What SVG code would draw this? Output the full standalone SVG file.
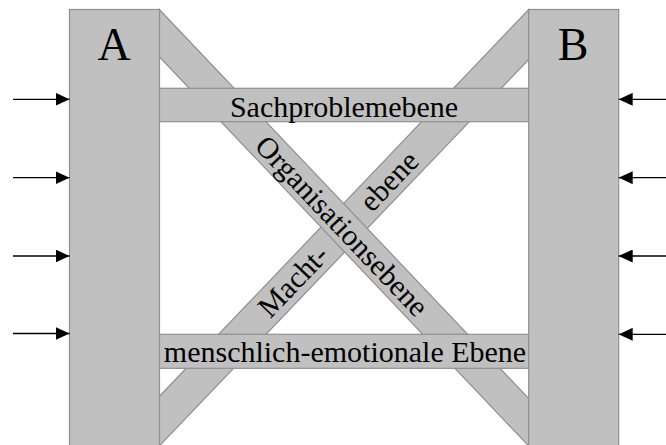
<svg xmlns="http://www.w3.org/2000/svg" width="666" height="445" viewBox="0 0 666 445">
  <style>
    .band { fill: #c0c0c0; stroke: #8f8f8f; stroke-width: 1.2; }
    .lbl { font-family: "Liberation Serif", "Times New Roman", serif; font-size: 30px; fill: #000; text-anchor: middle; }
    .big { font-family: "Liberation Serif", "Times New Roman", serif; font-size: 46px; fill: #000; text-anchor: middle; }
    .arrow { stroke: #000; stroke-width: 1.3; fill: none; marker-end: url(#head); }
  </style>
  <defs>
    <marker id="head" markerUnits="userSpaceOnUse" markerWidth="14" markerHeight="13" refX="14" refY="6.5" orient="auto">
      <path d="M0,0 L14,6.5 L0,13 z" fill="#000"/>
    </marker>
  </defs>

  <rect width="666" height="445" fill="#fff"/>

  <!-- rising diagonal: Macht-ebene -->
  <g id="band-macht">
    <polygon class="band" points="159.3,396.5 528.7,9.5 528.7,59.5 159.3,446"/>
  </g>

  <!-- falling diagonal: Organisationsebene -->
  <g id="band-organisation">
    <polygon class="band" points="159.3,9.5 528.7,398.5 528.7,446 159.3,56.7"/>
  </g>

  <!-- horizontal levels -->
  <g id="band-sach">
    <rect class="band" x="159.3" y="88.3" width="369.4" height="33.4"/>
  </g>
  <g id="band-mensch">
    <rect class="band" x="159.3" y="334.3" width="369.4" height="34"/>
  </g>

  <!-- pillars -->
  <g id="pillar-a">
    <rect class="band" x="69.5" y="9.5" width="90" height="445"/>
    <text class="big" x="114" y="60">A</text>
  </g>
  <g id="pillar-b">
    <rect class="band" x="528.7" y="9.5" width="90" height="445"/>
    <text class="big" x="573" y="60">B</text>
  </g>

  <!-- labels of the levels -->
  <g id="labels">
    <text class="lbl" x="344" y="116.5">Sachproblemebene</text>
    <text class="lbl" x="345" y="362">menschlich-emotionale Ebene</text>
    <text class="lbl" transform="translate(342,226) rotate(46.5)" x="0" y="10">Organisationsebene</text>
    <text class="lbl" transform="translate(293,281) rotate(-46.2)" x="0" y="10">Macht-</text>
    <text class="lbl" transform="translate(389,181) rotate(-46.2)" x="0" y="10">ebene</text>
  </g>

  <!-- incoming arrows -->
  <g id="connectors">
    <line class="arrow" x1="13" y1="99.3" x2="69.5" y2="99.3"/>
    <line class="arrow" x1="13" y1="177.7" x2="69.5" y2="177.7"/>
    <line class="arrow" x1="13" y1="256" x2="69.5" y2="256"/>
    <line class="arrow" x1="13" y1="333.5" x2="69.5" y2="333.5"/>
    <line class="arrow" x1="666" y1="99.3" x2="618.7" y2="99.3"/>
    <line class="arrow" x1="666" y1="177.7" x2="618.7" y2="177.7"/>
    <line class="arrow" x1="666" y1="256" x2="618.7" y2="256"/>
    <line class="arrow" x1="666" y1="334.3" x2="618.7" y2="334.3"/>
  </g>
</svg>
